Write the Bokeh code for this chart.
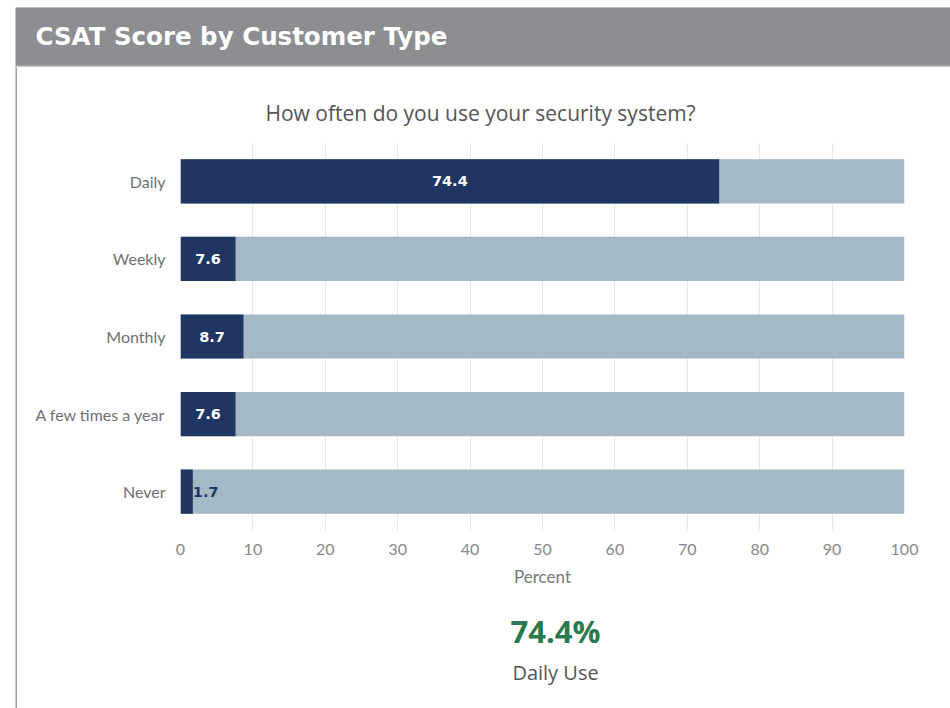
from bokeh.plotting import figure
from bokeh.models import (ColumnDataSource, Label, BoxAnnotation, Range1d,
                          FactorRange, FixedTicker, Spacer)
from bokeh.layouts import column, row
from bokeh.core.properties import value
from bokeh.embed import file_html
from bokeh.resources import INLINE

# ---- data ----
categories = ["Daily", "Weekly", "Monthly", "A few times a year", "Never"]
percents = [74.4, 7.6, 8.7, 7.6, 1.7]
full_scale = 100
x_ticks = [0, 10, 20, 30, 40, 50, 60, 70, 80, 90, 100]
header_title = "CSAT Score by Customer Type"
chart_title = "How often do you use your security system?"
x_label = "Percent"
kpi_label = "Daily Use"

DARK = "#1f3662"
LIGHT = "#a4b8c6"
GREEN = "#2a7a50"
HEAD = "#8d8e92"
BORDER = "#a0a0a2"

PAGE_W = 950
LEFT_PAD = 15
LINE_W = 2
BODY_W = PAGE_W - LEFT_PAD - LINE_W      # 933
HEAD_H = 60
MAIN_H = 533
KPI_H = 108


def bare(width, height, xr, yr, bg):
    f = figure(width=width, height=height, x_range=xr, y_range=yr,
               x_axis_type=None, y_axis_type=None,
               output_backend="svg", toolbar_location=None,
               min_border=0, background_fill_color=bg, border_fill_color=bg)
    f.outline_line_color = None
    f.grid.visible = False
    return f


# ---- header ----
hdr_w = PAGE_W - LEFT_PAD
hdr = bare(hdr_w, HEAD_H, Range1d(0, hdr_w), Range1d(0, HEAD_H), HEAD)
hdr.add_layout(BoxAnnotation(bottom=0, top=2, left=0, right=hdr_w,
                             fill_color="#c4c4c6", fill_alpha=1, line_color=None))
hdr.add_layout(Label(x=20, y=31, text=header_title, text_color="white",
                     text_font="DejaVu Sans", text_font_style="bold",
                     text_font_size="24.5px", text_baseline="middle"))

# ---- main chart ----
p = figure(width=BODY_W, height=MAIN_H,
           y_range=FactorRange(factors=list(reversed(categories))),
           x_range=Range1d(0, full_scale),
           output_backend="svg", toolbar_location=None,
           min_border_left=163, min_border_right=46,
           min_border_top=75, min_border_bottom=70,
           background_fill_color="white", border_fill_color="white")
p.outline_line_color = None

src = ColumnDataSource(dict(
    cat=categories,
    val=percents,
    full=[full_scale] * len(categories),
    lx=[v / 2 if v >= 5 else v for v in percents],
    lab=[f"{v:.1f}" for v in percents],
    align=["center" if v >= 5 else "left" for v in percents],
    col=["white" if v >= 5 else DARK for v in percents],
))

p.hbar(y="cat", left=0, right="full", height=0.57, source=src,
       fill_color=LIGHT, line_color=None)
p.hbar(y="cat", left=0, right="val", height=0.57, source=src,
       fill_color=DARK, line_color=None)
p.text(x="lx", y="cat", text="lab", source=src, text_align="align",
       text_baseline="middle", text_color="col",
       text_font=value("DejaVu Sans"), text_font_style="bold",
       text_font_size="14.5px")

p.title.text = chart_title
p.title.align = "left"
p.title.offset = 85
p.title.standoff = 31
p.title.text_font = "Open Sans"
p.title.text_font_style = "normal"
p.title.text_font_size = "21px"
p.title.text_color = "#555555"

p.xaxis.ticker = FixedTicker(ticks=x_ticks)
p.xaxis.axis_line_color = None
p.xaxis.major_tick_line_color = None
p.xaxis.minor_tick_line_color = None
p.xaxis.major_tick_out = 0
p.xaxis.major_tick_in = 0
p.xaxis.major_label_standoff = 13
p.xaxis.major_label_text_font = "Lato"
p.xaxis.major_label_text_font_size = "16px"
p.xaxis.major_label_text_color = "#888888"
p.xaxis.axis_label = x_label
p.xaxis.axis_label_text_font = "Lato"
p.xaxis.axis_label_text_font_style = "normal"
p.xaxis.axis_label_text_font_size = "17px"
p.xaxis.axis_label_text_color = "#777777"
p.xaxis.axis_label_standoff = 8

p.yaxis.axis_line_color = None
p.yaxis.major_tick_line_color = None
p.yaxis.minor_tick_line_color = None
p.yaxis.major_tick_out = 0
p.yaxis.major_tick_in = 0
p.yaxis.major_label_standoff = 15
p.yaxis.major_label_text_font = "Lato"
p.yaxis.major_label_text_font_size = "16px"
p.yaxis.major_label_text_color = "#707070"

p.xgrid.grid_line_color = "#e8e8e8"
p.ygrid.grid_line_color = None

# ---- KPI block (its frame is aligned with the chart frame by the column) ----
kpi = bare(BODY_W, KPI_H, Range1d(0, full_scale), Range1d(0, KPI_H), "white")
kpi_x = 51.8   # in percent-axis units, under the chart
kpi.add_layout(Label(x=kpi_x, y=78, text=f"{percents[0]}%", text_color=GREEN,
                     text_font="Open Sans", text_font_style="bold",
                     text_font_size="31px",
                     text_align="center", text_baseline="middle"))
kpi.add_layout(Label(x=kpi_x, y=36, text=kpi_label, text_color="#555555",
                     text_font="Open Sans", text_font_size="20px",
                     text_align="center", text_baseline="middle"))

# ---- left border line ----
line = bare(LINE_W, MAIN_H + KPI_H, Range1d(0, 1), Range1d(0, 1), BORDER)

page = column(
    Spacer(width=PAGE_W, height=7),
    row(Spacer(width=LEFT_PAD, height=HEAD_H), hdr),
    row(Spacer(width=LEFT_PAD, height=MAIN_H + KPI_H), line, column(p, kpi)),
)

open("out.html", "w").write(file_html(page, INLINE))
